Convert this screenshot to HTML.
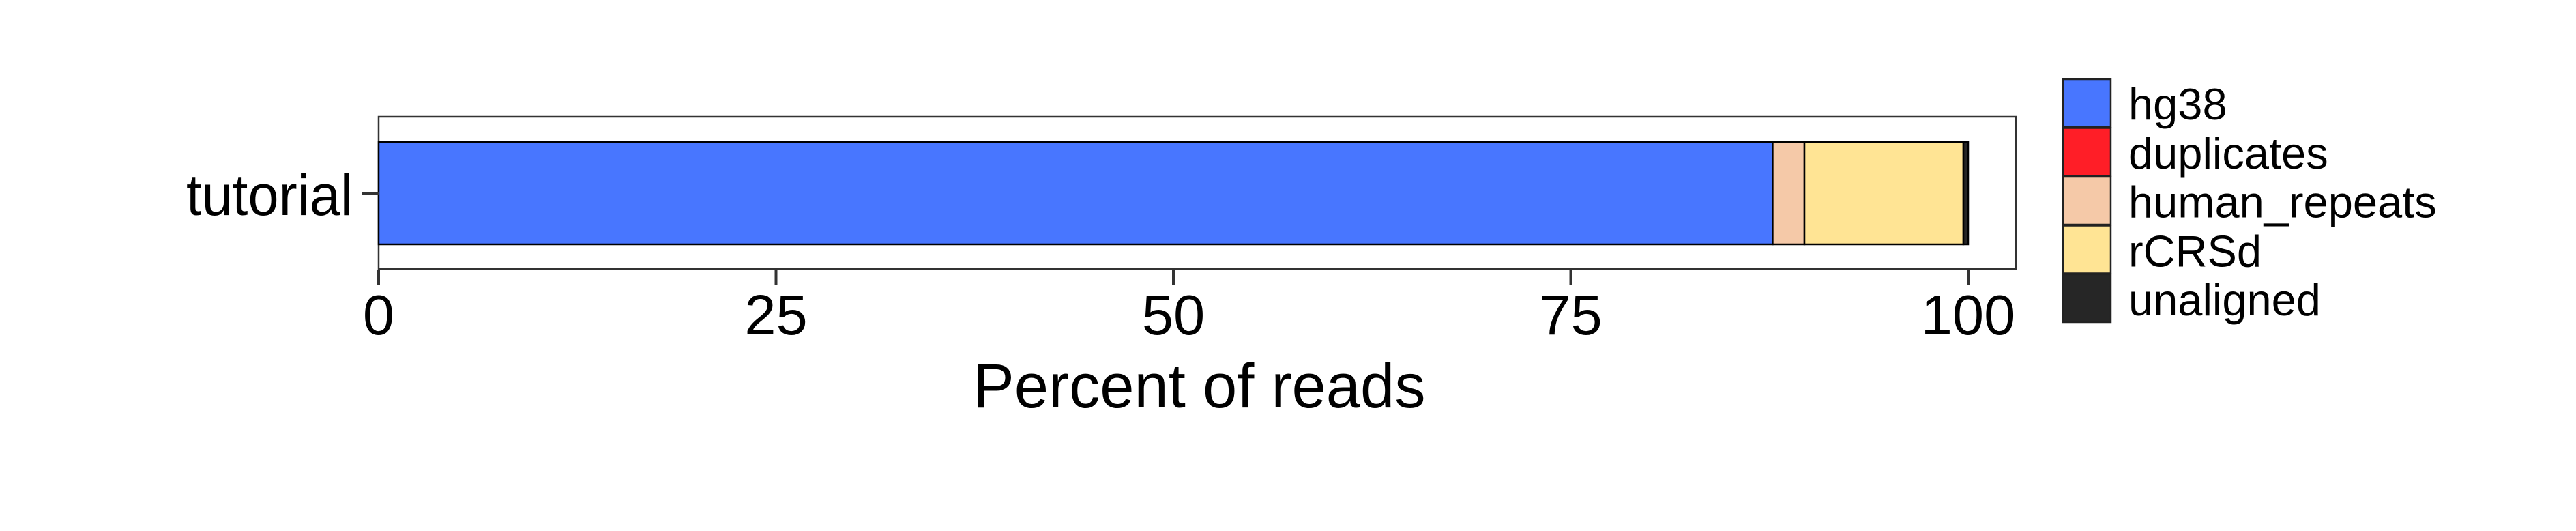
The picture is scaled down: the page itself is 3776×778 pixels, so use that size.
<!DOCTYPE html>
<html><head><meta charset="utf-8"><style>
html,body{margin:0;padding:0;background:#fff;}
svg{display:block;font-family:"Liberation Sans",Arial,sans-serif;}
</style></head><body>
<svg id="chart" width="3776" height="778" viewBox="0 0 3776 778" xmlns="http://www.w3.org/2000/svg">
<rect x="0" y="0" width="3776" height="778" fill="#fff"/>
<g id="plot"></g>
</svg>
<script>
const categories = ["tutorial"];
const seriesNames = ["hg38","duplicates","human_repeats","rCRSd","unaligned"];
const seriesColors = ["#4876FF","#FF1E27","#F5C9A8","#FFE494","#262626"];
const hg38 = [87.7];
const duplicates = [0.0];
const human_repeats = [2.0];
const rCRSd = [10.0];
const unaligned = [0.3];
const xTicks = [0,25,50,75,100];
const xTickLabels = ["0","25","50","75","100"];

const NS="http://www.w3.org/2000/svg";
const g=document.getElementById('plot');
const P={l:555,r:2955,t:171,b:394};
const x0=555, x100=2885;
function xs(v){return x0+(x100-x0)*v/100;}
function mk(tag,attrs,parent){const e=document.createElementNS(NS,tag);for(const k in attrs)e.setAttribute(k,attrs[k]);(parent||g).appendChild(e);return e;}

// panel
const panel=mk('rect',{x:P.l,y:P.t,width:P.r-P.l,height:P.b-P.t,fill:'#fff',stroke:'#333','stroke-width':2.5});



const series=[hg38,duplicates,human_repeats,rCRSd,unaligned];
const barTop=208, barBot=358;
categories.forEach((c,ci)=>{
  let acc=0;
  series.forEach((s,si)=>{
    const v=s[ci];
    const r=mk('rect',{x:xs(acc),y:barTop,width:Math.max(0,xs(acc+v)-xs(acc)),height:barBot-barTop,fill:seriesColors[si],stroke:'#000','stroke-width':2.5});
    
    
    acc+=v;
  });
  const yc=(barTop+barBot)/2;
  const tk=mk('line',{x1:530,x2:P.l,y1:yc,y2:yc,stroke:'#333','stroke-width':4});
  
  
  const lb=mk('text',{x:517,y:315,'text-anchor':'end','font-size':84,fill:'#000',textLength:244,lengthAdjust:'spacingAndGlyphs'});
  lb.textContent=c;
  
  
});

xTicks.forEach((t,i)=>{
  const tk=mk('line',{x1:xs(t),x2:xs(t),y1:395,y2:418,stroke:'#333','stroke-width':4});
  
  
  const lb=mk('text',{x:xs(t),y:490,'text-anchor':'middle','font-size':83,fill:'#000'});
  lb.textContent=xTickLabels[i];
  
  
});

const title=mk('text',{x:1758,y:597,'text-anchor':'middle','font-size':92,fill:'#000',textLength:663,lengthAdjust:'spacingAndGlyphs'});
title.textContent='Percent of reads';



// legend
seriesNames.forEach((n,i)=>{
  const y=116+i*71.5;
  const k=mk('rect',{x:3024,y:y,width:70,height:70,fill:seriesColors[i],stroke:'#222','stroke-width':2.5});
  
  
  const t=mk('text',{x:3120,y:175+i*71.8,'font-size':65,fill:'#000'});
  t.textContent=n;
  
  
});
</script>
</body></html>
